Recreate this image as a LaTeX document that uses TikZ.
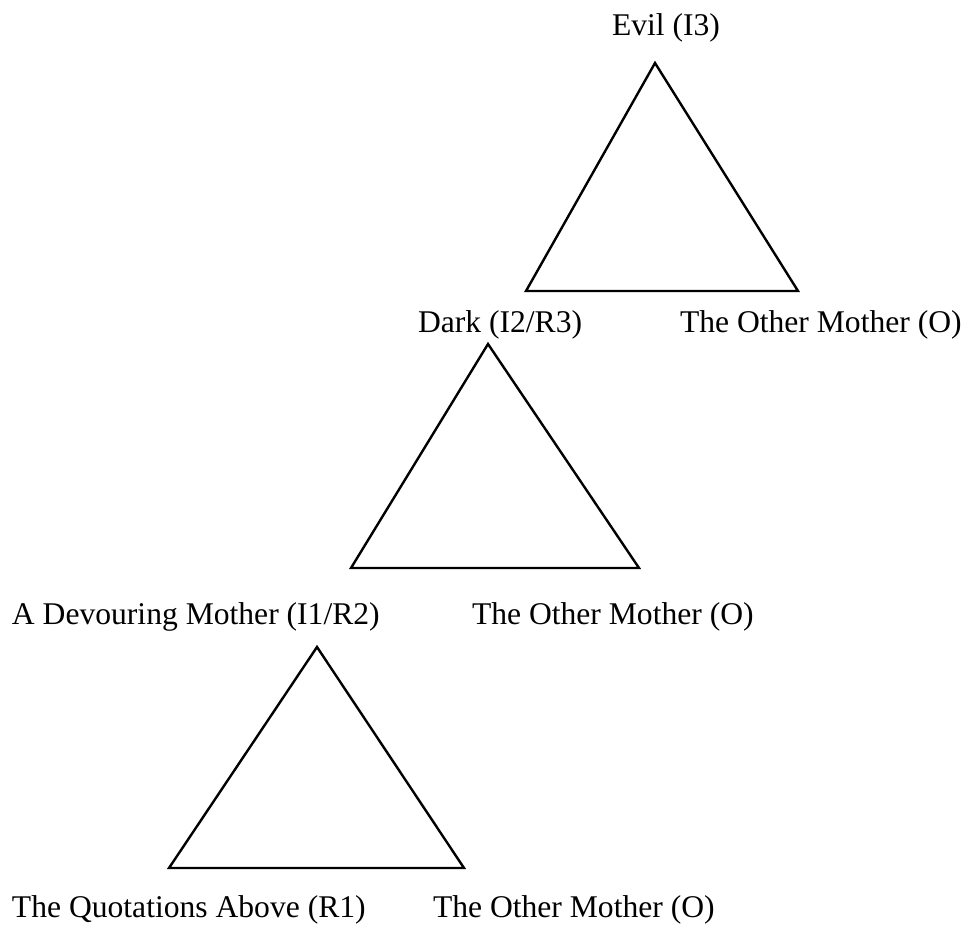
\documentclass[tikz,border=0pt]{standalone}
\usepackage{fontspec}
\setmainfont{Liberation Serif}
\begin{document}
\begin{tikzpicture}[x=1pt,y=-1pt,
  lbl/.style={anchor=base west,inner sep=0pt,outer sep=0pt,font=\fontsize{31.6}{38}\selectfont},
  tri/.style={draw=black,line width=2.4pt,line join=miter}]
\useasboundingbox (0,0) rectangle (966,924);
% labels
\node[lbl] (evil) at (612,35) {Evil (I3)};
\node[lbl] (dark) at (418,332) {Dark (I2/R3)};
\node[lbl] (om1) at (680,332) {The Other Mother (O)};
\node[lbl] (dev) at (12,624) {A Devouring Mother (I1/R2)};
\node[lbl] (om2) at (472,624) {The Other Mother (O)};
\node[lbl] (quot) at (12,917) {The Quotations Above (R1)};
\node[lbl] (om3) at (433,917) {The Other Mother (O)};
% triangle corners
\coordinate (t1a) at (655,63);
\coordinate (t1b) at (526,291);
\coordinate (t1c) at (798,291);
\coordinate (t2a) at (488,344);
\coordinate (t2b) at (351,568);
\coordinate (t2c) at (639,568);
\coordinate (t3a) at (317,647);
\coordinate (t3b) at (169,868);
\coordinate (t3c) at (464,868);
\draw[tri] (t1a) -- (t1b) -- (t1c) -- cycle;
\draw[tri] (t2a) -- (t2b) -- (t2c) -- cycle;
\draw[tri] (t3a) -- (t3b) -- (t3c) -- cycle;
\end{tikzpicture}
\end{document}
